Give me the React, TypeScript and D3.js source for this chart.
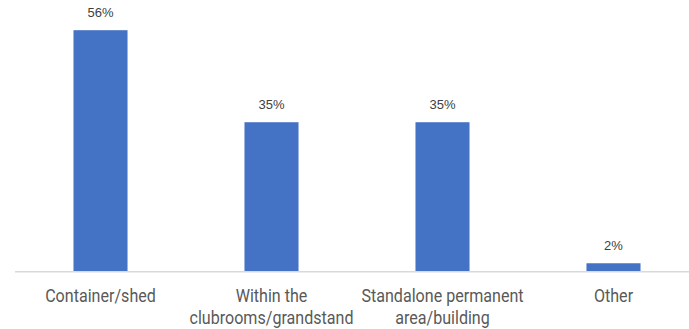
import React, { useEffect, useRef } from "react";
import * as d3 from "d3";

const categories: string[][] = [
  ["Container/shed"],
  ["Within the", "clubrooms/grandstand"],
  ["Standalone permanent", "area/building"],
  ["Other"],
];
const values: number[] = [56, 34.6, 34.6, 1.8];
const valueLabels: string[] = ["56%", "35%", "35%", "2%"];

const W = 689;
const H = 329;

export default function App() {
  const ref = useRef<SVGSVGElement | null>(null);

  useEffect(() => {
    const svg = d3.select(ref.current);
    svg.selectAll("*").remove();

    const idx = categories.map((_, i) => String(i));
    const x = d3.scaleBand<string>().domain(idx).range([15, 699]).paddingInner(0.684).paddingOuter(0.342);
    const y = d3.scaleLinear().domain([0, 60]).range([271, 13]);

    svg
      .append("g")
      .selectAll("rect")
      .data(values)
      .join("rect")
      .attr("x", (_, i) => x(String(i))!)
      .attr("y", (d) => y(d))
      .attr("width", x.bandwidth())
      .attr("height", (d) => y(0) - y(d))
      .attr("fill", "#4472C4");

    svg
      .append("line")
      .attr("x1", 15)
      .attr("x2", W)
      .attr("y1", y(0) + 0.75)
      .attr("y2", y(0) + 0.75)
      .attr("stroke", "#d9d9d9")
      .attr("stroke-width", 1.5);

    svg
      .append("g")
      .selectAll("text")
      .data(values)
      .join("text")
      .attr("x", (_, i) => x(String(i))! + x.bandwidth() / 2)
      .attr("y", (d) => y(d) - 13)
      .attr("text-anchor", "middle")
      .attr("font-family", "'Liberation Sans', Arial, sans-serif")
      .attr("font-size", 13)
      .attr("fill", "#404040")
      .text((_, i) => valueLabels[i]);

    const cg = svg.append("g");
    categories.forEach((lines, i) => {
      const cx = x(String(i))! + x.bandwidth() / 2;
      const t = cg
        .append("text")
        .attr("transform", `translate(${cx},0) scale(0.92,1)`)
        .attr("text-anchor", "middle")
        .attr("font-family", "Roboto, sans-serif")
        .attr("font-size", 17.5)
        .attr("fill", "#595959");
      lines.forEach((ln, j) => {
        t.append("tspan")
          .attr("x", 0)
          .attr("y", 302 + j * 22)
          .text(ln);
      });
    });
  }, []);

  return (
    <svg
      ref={ref}
      width={W}
      height={H}
      style={{ position: "absolute", left: 0, top: 0, background: "#fff" }}
    />
  );
}
